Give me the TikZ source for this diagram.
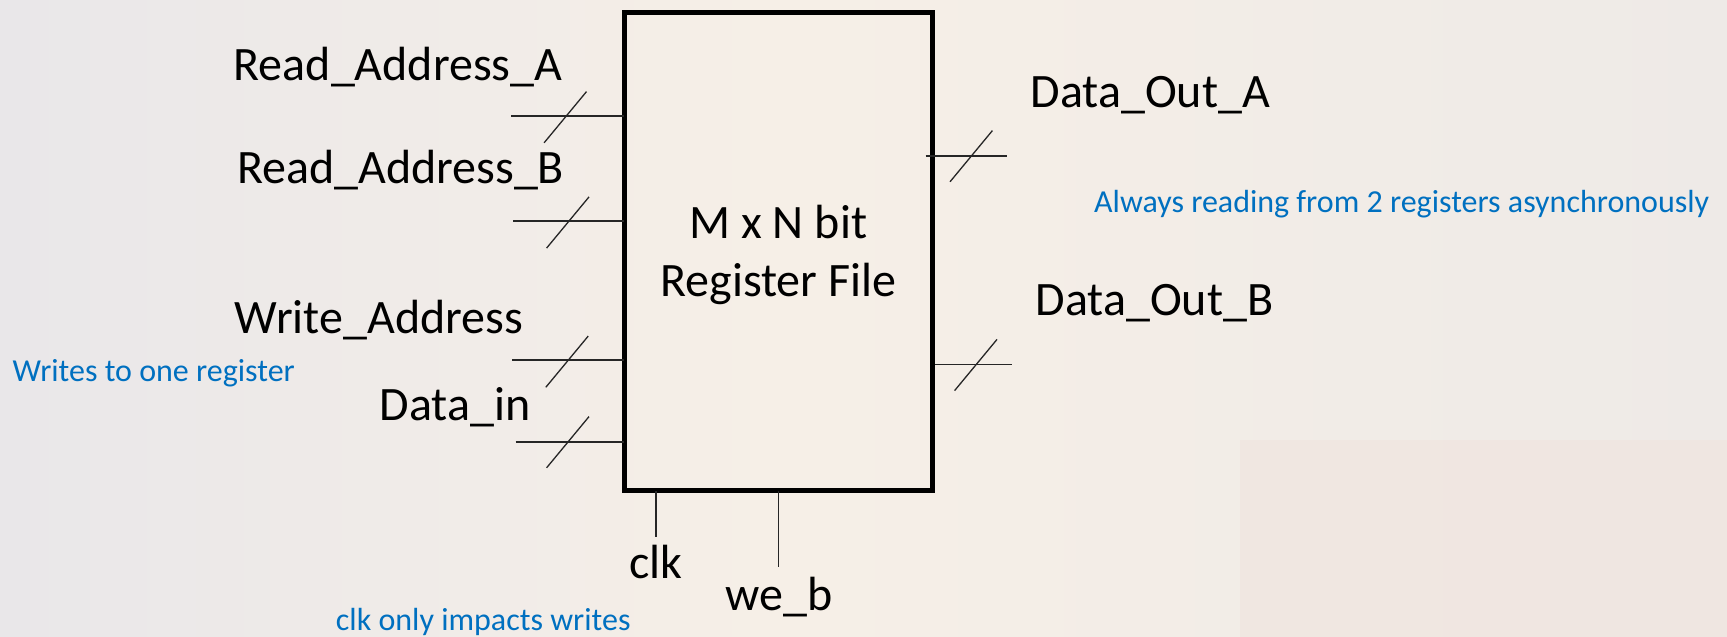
\documentclass[tikz,border=0pt]{standalone}
\usepackage{fontspec}
\setmainfont{Carlito}
\usetikzlibrary{calc}

\definecolor{paper}{RGB}{238,234,231}
\definecolor{warmpaper}{RGB}{246,239,231}
\definecolor{rosepaper}{RGB}{240,229,223}
\definecolor{greypaper}{RGB}{233,231,233}
\definecolor{noteblue}{RGB}{0,112,192}

\tikzset{
  sig/.style={font=\fontsize{48}{58}\selectfont, text=black, inner sep=0pt, anchor=base west},
  note/.style={font=\fontsize{32}{38}\selectfont, text=noteblue, inner sep=0pt, anchor=base west},
  wire/.style={line width=1.6pt, draw=black!85},
  regbox/.style={draw=black, line width=5pt, inner sep=0pt, outer sep=0pt, anchor=north west},
  busmark/.pic={\draw[line width=1.3pt, draw=black!85] (-21.2,25.6) -- (21.2,-25.6);}
}

\begin{document}
\begin{tikzpicture}[x=1pt, y=-1pt]
  % page and faint backdrop
  \useasboundingbox (0,0) rectangle (1727,637);
  \shade[left color=greypaper, right color=warmpaper] (0,0) rectangle (780,637);
  \shade[left color=warmpaper, right color=paper] (780,0) rectangle (1727,637);
  \fill[rosepaper, opacity=0.7] (1240,440) rectangle (1727,637);

  % register file block
  \node[regbox, minimum width=308.3pt, minimum height=478.3pt] (rf) at (624.2,12.5) {};
  \node[font=\fontsize{48}{58}\selectfont, inner sep=0pt, anchor=base] (title1) at (778.3,238.3) {M x N bit};
  \node[font=\fontsize{48}{58}\selectfont, inner sep=0pt, anchor=base] (title2) at (778.3,296.7) {Register File};

  % input ports
  \coordinate (ra) at (511,115.7);
  \coordinate (rb) at (513,220.7);
  \coordinate (wa) at (512,360);
  \coordinate (di) at (515.7,442);
  \draw[wire] (ra) -- (rf.west |- ra);
  \draw[wire] (rb) -- (rf.west |- rb);
  \draw[wire] (wa) -- (rf.west |- wa);
  \draw[wire] (di) -- (rf.west |- di);
  \pic at (565.3,117.2) {busmark};
  \pic at (567.8,222.5) {busmark};
  \pic at (567,361.7) {busmark};
  \pic at (567.8,442.2) {busmark};

  % output ports
  \coordinate (oa) at (1007,156);
  \coordinate (ob) at (1011.8,364.3);
  \draw[wire] ($(rf.east |- oa)+(-7,0)$) -- (oa);
  \draw[wire] ($(rf.east |- ob)+(2,0)$) -- (ob);
  \pic at (971.2,156.2) {busmark};
  \pic at (975.8,365) {busmark};

  % control inputs
  \coordinate (ck) at (656,537.3);
  \coordinate (we) at (778.3,566.7);
  \draw[wire] (rf.south -| ck) -- (ck);
  \draw[wire] (rf.south -| we) -- (we);

  % signal names
  \node[sig] (lra) at (233.5,80.4) {Read\_Address\_A};
  \node[sig] (lrb) at (236.8,183) {Read\_Address\_B};
  \node[sig] (lwa) at (234.6,333) {Write\_Address};
  \node[sig] (ldi) at (379.5,420) {Data\_in};
  \node[sig] (loa) at (1030.5,107.7) {Data\_Out\_A};
  \node[sig] (lob) at (1035.5,315) {Data\_Out\_B};
  \node[sig] (lck) at (629,578.3) {clk};
  \node[sig] (lwe) at (725.7,610) {we\_b};

  % notes
  \node[note] (nread) at (1094,212.7) {Always reading from 2 registers asynchronously};
  \node[note] (nwrite) at (12.5,381.7) {Writes to one register};
  \node[note] (nclk) at (335.7,630) {clk only impacts writes};
\end{tikzpicture}
\end{document}
